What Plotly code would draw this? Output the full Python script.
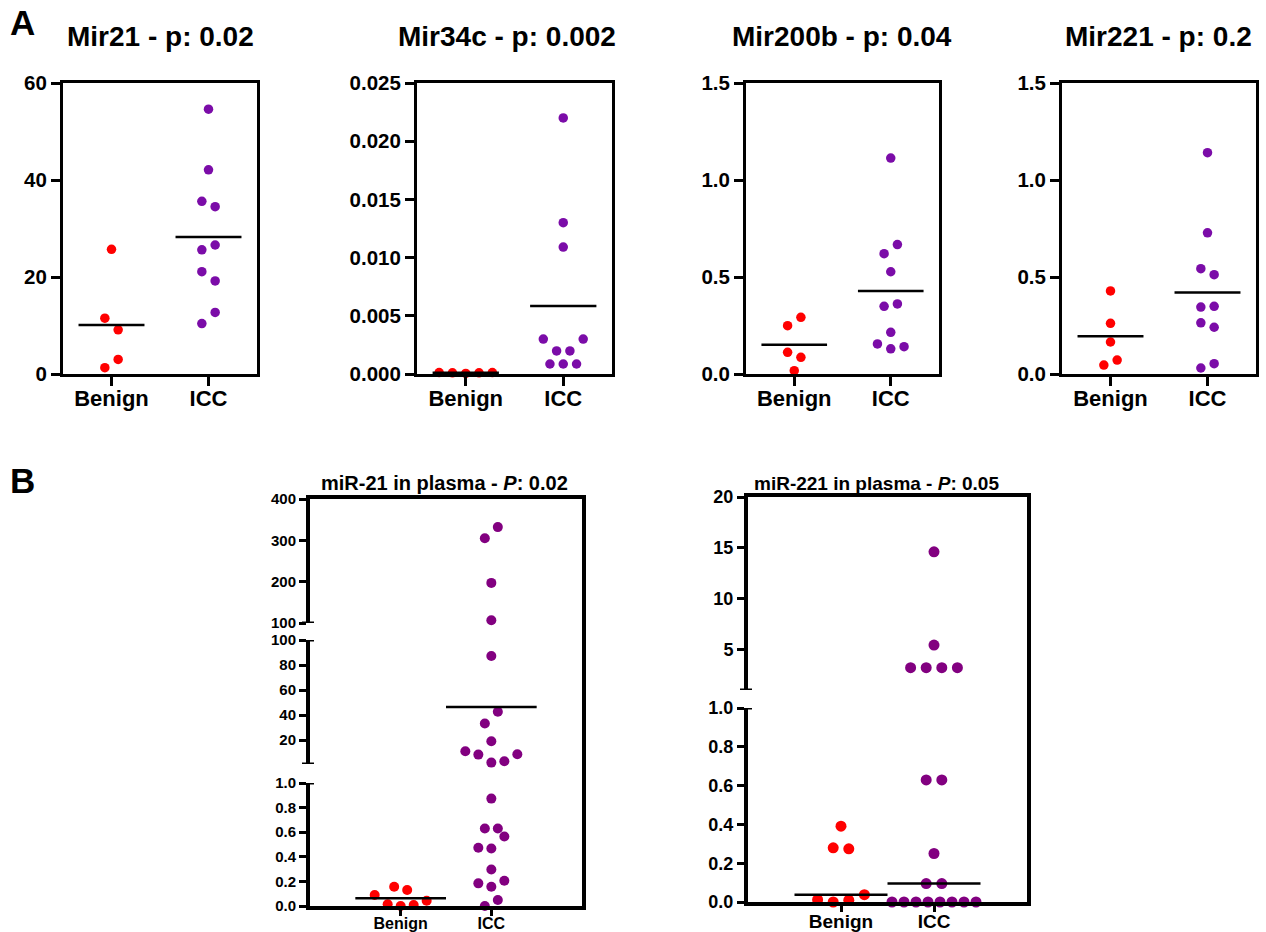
import plotly.graph_objects as go

W, H = 1266, 932
FONT = "Liberation Sans"
RED = "#FF0000"
PURPLE_A = "#7B0CA8"
PURPLE_B = "#820080"

groups = ["Benign", "ICC"]

# ---------------- Panel A data ----------------
mir21_title = "Mir21 - p: 0.02"
mir21_benign = [25.7, 11.5, 9.1, 3.0, 1.3]
mir21_icc = [54.6, 42.1, 35.6, 34.5, 26.6, 25.6, 21.1, 19.2, 12.7, 10.4]
mir21_ticks = [0, 20, 40, 60]

mir34c_title = "Mir34c - p: 0.002"
mir34c_benign = [0.00012, 0.0001, 0.00005, 0.0001, 0.00012]
mir34c_icc = [0.022, 0.013, 0.0109, 0.003, 0.003, 0.00198, 0.00198, 0.00086, 0.00086, 0.00086]
mir34c_ticks = [0.000, 0.005, 0.010, 0.015, 0.020, 0.025]

mir200b_title = "Mir200b - p: 0.04"
mir200b_benign = [0.292, 0.249, 0.112, 0.086, 0.017]
mir200b_icc = [1.113, 0.667, 0.62, 0.527, 0.361, 0.349, 0.215, 0.155, 0.141, 0.130]
mir200b_ticks = [0.0, 0.5, 1.0, 1.5]

mir221_title = "Mir221 - p: 0.2"
mir221_benign = [0.428, 0.261, 0.165, 0.072, 0.046]
mir221_icc = [1.141, 0.728, 0.543, 0.512, 0.349, 0.345, 0.264, 0.241, 0.053, 0.031]
mir221_ticks = [0.0, 0.5, 1.0, 1.5]

# ---------------- Panel B data ----------------
b21_title = "miR-21 in plasma - <i>P</i>: 0.02"
b21_benign = [0.157, 0.130, 0.089, 0.043, 0.0135, 0.008, 0.0]
b21_icc = [332, 305, 197, 106.5, 87.2, 42.7, 33.3, 19.2, 11.2, 8.8, 8.5, 3.2, 2.1,
           0.873, 0.63, 0.63, 0.565, 0.473, 0.468, 0.297, 0.205, 0.184, 0.157, 0.049, 0.0]
b21_segments = [(0, 1), (1, 100), (100, 400)]
b21_ticks = [[0.0, 0.2, 0.4, 0.6, 0.8, 1.0], [20, 40, 60, 80, 100], [100, 200, 300, 400]]

b221_title = "miR-221 in plasma - <i>P</i>: 0.05"
b221_benign = [0.391, 0.279, 0.274, 0.038, 0.012, 0.009, 0.0]
b221_icc = [14.6, 5.42, 3.2, 3.2, 3.2, 3.2, 0.629, 0.629, 0.25, 0.095, 0.095,
            0.0, 0.0, 0.0, 0.0, 0.0, 0.0, 0.0, 0.0]
b221_segments = [(0, 1), (1, 20)]
b221_ticks = [[0.0, 0.2, 0.4, 0.6, 0.8, 1.0], [5, 10, 15, 20]]


# ---------------- helpers ----------------
def center_stat(vals, stat):
    s = sorted(vals)
    n = len(s)
    if stat == "mean":
        return sum(s) / n
    return s[n // 2] if n % 2 else (s[n // 2 - 1] + s[n // 2]) / 2


def seg_index(v, segs):
    for k, (lo, hi) in enumerate(segs):
        if v <= hi:
            return k
    return len(segs) - 1


def ypix(v, segs, seg_px):
    k = seg_index(v, segs)
    lo, hi = segs[k]
    top, bot = seg_px[k]
    return bot - (v - lo) / (hi - lo) * (bot - top)


def swarm(values, segs, seg_px, spacing, T=12.5, maxspan=None):
    """GraphPad-like column scatter: rows of near-equal values spread symmetrically."""
    order = sorted(range(len(values)), key=lambda i: values[i])
    rows = []
    for i in order:
        y = ypix(values[i], segs, seg_px)
        if rows and abs(rows[-1][0] - y) < T:
            rows[-1][1].append(i)
        else:
            rows.append([y, [i]])
    off = [0.0] * len(values)
    for r, (_, idx) in enumerate(rows):
        n = len(idx)
        base = -1 if r % 2 == 0 else 1
        sp = spacing
        if maxspan and n > 1 and (n - 1) * sp > maxspan:
            sp = maxspan / (n - 1)
        if n % 2 == 0:
            t = base
            slots = []
            for k in range(n // 2):
                slots += [t * (k + 0.5), -t * (k + 0.5)]
        else:
            t = -base
            slots = [0.0]
            for k in range(1, n // 2 + 1):
                slots += [t * k, -t * k]
        for j, i in enumerate(idx):
            off[i] = slots[j] * sp
    return off


def aname(prefix, n):
    return prefix if n == 1 else f"{prefix}{n}"


fig = go.Figure()
layout = dict(width=W, height=H, autosize=False, margin=dict(l=0, r=0, t=0, b=0, pad=0),
              paper_bgcolor="white", plot_bgcolor="white", showlegend=False,
              template="none")
shapes = []
annotations = []


def add_chart(xn, yns, box_x, seg_px, segs, ticks, fmts, xr, benign, icc, stat, st, broken,
              title, title_xy, title_size):
    x0, x1 = box_x
    xname = aname("x", xn)
    lw = st["lw"]
    layout[aname("xaxis", xn)] = dict(
        domain=[x0 / W, x1 / W], range=xr, anchor=aname("y", yns[0]),
        tickmode="array", tickvals=[0, 1], ticktext=groups, automargin=False,
        showline=True, linewidth=lw, linecolor="black", mirror=(not broken),
        ticks="outside", ticklen=st["xtl"], tickwidth=3, tickcolor="black",
        ticklabelstandoff=st["xso"],
        tickfont=dict(family=FONT, size=st["xfs"], color="black", weight="bold"),
        showgrid=False, zeroline=False, fixedrange=True)
    for k, yn in enumerate(yns):
        top, bot = seg_px[k]
        layout[aname("yaxis", yn)] = dict(
            domain=[1 - bot / H, 1 - top / H], range=list(segs[k]), anchor=xname,
            tickmode="array", tickvals=ticks[k], tickformat=fmts[k], automargin=False,
            showline=True, linewidth=lw, linecolor="black", mirror=(not broken),
            ticks="outside", ticklen=st["ytl"], tickwidth=3, tickcolor="black",
            tickfont=dict(family=FONT, size=st["yfs"], color="black", weight="bold"),
            showgrid=False, zeroline=False, fixedrange=True)
    ppu = (x1 - x0) / (xr[1] - xr[0])
    for g, (vals, col) in enumerate([(benign, RED), (icc, st["purple"])]):
        off = swarm(vals, segs, seg_px, st["spacing"], maxspan=st.get("maxspan"))
        for k, yn in enumerate(yns):
            xs = [g + off[i] / ppu for i, v in enumerate(vals) if seg_index(v, segs) == k]
            ys = [v for v in vals if seg_index(v, segs) == k]
            if xs:
                fig.add_trace(go.Scatter(
                    x=xs, y=ys, xaxis=xname, yaxis=aname("y", yn), mode="markers",
                    marker=dict(size=st["msize"], color=col, line=dict(width=0)),
                    cliponaxis=False, hoverinfo="skip"))
        m = center_stat(vals, stat)
        k = seg_index(m, segs)
        hw = st["hw"]
        fig.add_trace(go.Scatter(
            x=[g - hw, g + hw], y=[m, m], xaxis=xname, yaxis=aname("y", yns[k]),
            mode="lines", line=dict(color="black", width=2.5), cliponaxis=False,
            hoverinfo="skip"))
    if broken:
        top_px = seg_px[-1][0]
        bot_px = seg_px[0][1]
        # top and right frame lines (continuous)
        shapes.append(dict(type="line", xref="paper", yref="paper",
                           x0=(x0 - lw) / W, x1=(x1 + lw) / W,
                           y0=1 - (top_px - lw / 2) / H, y1=1 - (top_px - lw / 2) / H,
                           line=dict(color="black", width=lw)))
        shapes.append(dict(type="line", xref="paper", yref="paper",
                           x0=(x1 + lw / 2) / W, x1=(x1 + lw / 2) / W,
                           y0=1 - (bot_px + lw) / H, y1=1 - (top_px - lw) / H,
                           line=dict(color="black", width=lw)))
        # caps at the ends of each axis break
        ax = x0 - lw / 2
        for k, yn in enumerate(yns):
            ends = []
            if k < len(yns) - 1:
                ends.append(segs[k][1])
            if k > 0:
                ends.append(segs[k][0])
            for e in ends:
                shapes.append(dict(type="line", xref="paper", yref=aname("y", yn),
                                   x0=(ax - 6) / W, x1=(ax + 6) / W, y0=e, y1=e,
                                   line=dict(color="black", width=3)))
    annotations.append(dict(text=title, x=title_xy[0] / W, y=1 - title_xy[1] / H,
                            xref="paper", yref="paper", xanchor="center", yanchor="middle",
                            showarrow=False,
                            font=dict(family=FONT, size=title_size, color="black", weight="bold")))


style_a = dict(lw=3, ytl=9, xtl=9, xso=-6, yfs=20.5, xfs=22, msize=9.5, purple=PURPLE_A,
               spacing=13.3, hw=0.34)
style_b5 = dict(lw=4, ytl=7, xtl=6, xso=-6, yfs=15, xfs=16, msize=10, purple=PURPLE_B,
                spacing=13, hw=0.5)
style_b6 = dict(lw=4, ytl=7, xtl=6, xso=-7, yfs=18, xfs=19, msize=11, purple=PURPLE_B,
                spacing=15.6, maxspan=84, hw=0.5)

a_box_y = (83, 374)
a_charts = [
    (mir21_title, mir21_benign, mir21_icc, mir21_ticks, "d", (63, 257), 160),
    (mir34c_title, mir34c_benign, mir34c_icc, mir34c_ticks, ".3f", (417, 612), 507),
    (mir200b_title, mir200b_benign, mir200b_icc, mir200b_ticks, ".1f", (746, 939), 842),
    (mir221_title, mir221_benign, mir221_icc, mir221_ticks, ".1f", (1062, 1256), 1158),
]
for i, (t, b, c, tk, fmt, bx, tx) in enumerate(a_charts):
    n = i + 1
    add_chart(n, [n], bx, [a_box_y], [(tk[0], tk[-1])], [tk], [fmt], [-0.5, 1.5],
              b, c, "mean", style_a, False, t, (tx, 37), 28)

add_chart(5, [5, 6, 7], (310, 582), [(783, 906), (640, 764), (499, 623)], b21_segments,
          b21_ticks, [".1f", "d", "d"], [-1, 2], b21_benign, b21_icc, "mean", style_b5, True,
          b21_title, (444, 483), 20)
add_chart(6, [8, 9], (748, 1027), [(708, 902), (497, 690)], b221_segments,
          b221_ticks, [".1f", "d"], [-1, 2], b221_benign, b221_icc, "median", style_b6, True,
          b221_title, (877, 484), 19)

annotations.append(dict(text="A", x=22 / W, y=1 - 22 / H, xref="paper", yref="paper",
                        xanchor="center", yanchor="middle", showarrow=False,
                        font=dict(family=FONT, size=35, color="black", weight="bold")))
annotations.append(dict(text="B", x=22 / W, y=1 - 480 / H, xref="paper", yref="paper",
                        xanchor="center", yanchor="middle", showarrow=False,
                        font=dict(family=FONT, size=35, color="black", weight="bold")))

layout["shapes"] = shapes
layout["annotations"] = annotations
fig.update_layout(**layout)
fig.write_html("out.html", config={"displayModeBar": False, "responsive": False},
               post_script="document.body.style.margin='0';")
